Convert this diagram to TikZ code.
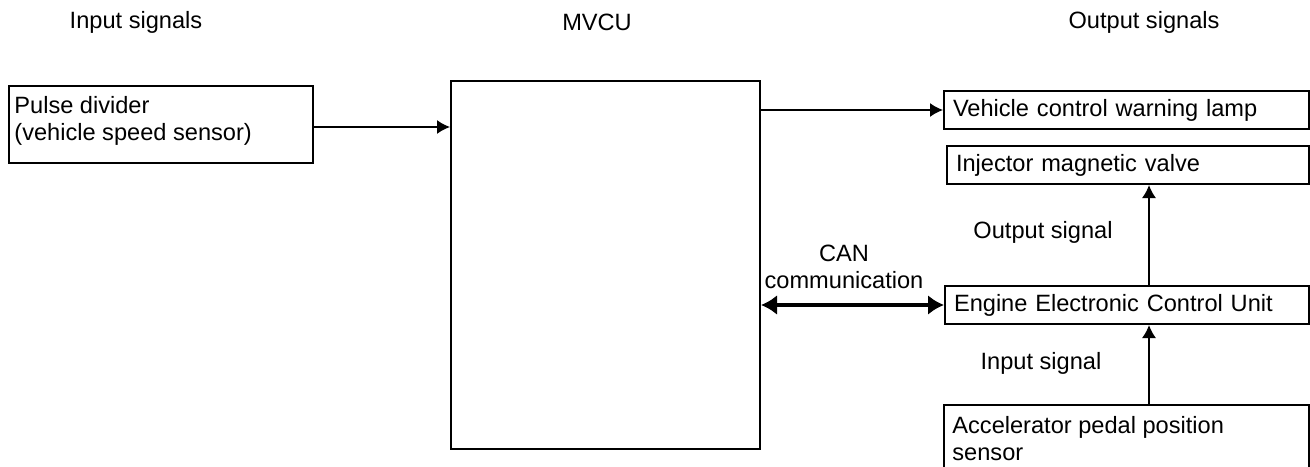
\documentclass[tikz,border=0pt]{standalone}
\usepackage{fontspec}
\setmainfont{Liberation Sans}
\usepackage{tikz}
\usetikzlibrary{arrows.meta, positioning}

\begin{document}
\begin{tikzpicture}[
    x=0.5pt, y=-0.5pt,
    font=\fontsize{11.8}{13.5}\selectfont,
    % plain rectangular block
    blockBox/.style={
        rectangle, draw=black, line width=1pt,
        anchor=north west, inner sep=0pt
    },
    % single line block text
    lineBox/.style={
        blockBox, align=left, inner xsep=4.5pt,
        minimum height=19pt
    },
    % text inside a taller block
    blockText/.style={
        anchor=north west, align=left, inner xsep=3pt, inner ysep=5.5pt
    },
    sigArrow/.style={-{Latex[length=6.5pt, width=7pt]}, line width=0.8pt},
    canArrow/.style={{Latex[length=8pt, width=10pt]}-{Latex[length=8pt, width=10pt]},
        line width=2pt}
]
\useasboundingbox (0,0) rectangle (1310,466);
% Column headers
\node (hIn)  at (136,22)  {Input signals};
\node (hMv)  at (597,22)  {MVCU};
\node (hOut) at (1144,22) {Output signals};
% ── Input side ────────────────────────────────
\node[blockBox, minimum width=152pt, minimum height=38.5pt] (pulse) at (8,85) {};
\node[blockText] (pulseTxt) at (pulse.north west)
    {Pulse divider\\(vehicle speed sensor)};
% ── MVCU ──────────────────────────────────────
\node[blockBox, minimum width=154.5pt, minimum height=184pt] (mvcu) at (450,80) {};
% ── Output side ───────────────────────────────
\node[lineBox, text width=173.5pt] (lamp) at (943,90) {Vehicle control warning lamp};
\node[lineBox, text width=172pt] (inj) at (946,145) {Injector magnetic valve};
\node[lineBox, text width=173pt] (ecu) at (944,285) {Engine Electronic Control Unit};
\node[blockBox, minimum width=182.5pt, minimum height=60pt] (accel) at (943,404) {};
\node[blockText, inner xsep=4.5pt, inner ysep=6pt] (accelTxt) at (accel.north west)
    {Accelerator pedal position\\sensor};
% Labels
\node (outLbl) at (1043,232) {Output signal};
\node (inLbl)  at (1041,363) {Input signal};
\node[align=center] (canLbl) at (844,267) {CAN\\communication};
% Signal column
\coordinate (sigX) at (1149,0);
% ── Arrows ────────────────────────────────────
\draw[sigArrow] (pulse.east |- 0,127) -- (mvcu.west |- 0,127);
\draw[sigArrow] (lamp.west -| mvcu.east) -- (lamp.west);
\draw[canArrow] (ecu.west -| mvcu.east) -- (ecu.west);
\draw[sigArrow] (ecu.north -| sigX) -- (inj.south -| sigX);
\draw[sigArrow] (accel.north -| sigX) -- (ecu.south -| sigX);
\end{tikzpicture}
\end{document}
